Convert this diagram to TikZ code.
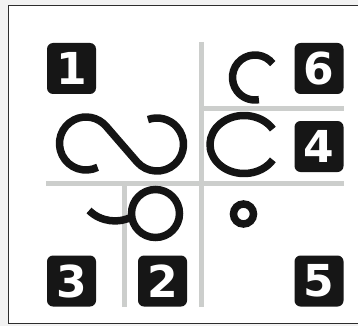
\documentclass[tikz,border=0pt]{standalone}
\usepackage{fontspec}
\newfontfamily\digitfont{DejaVu Sans}
\usetikzlibrary{calc}
\definecolor{gridgray}{RGB}{204,206,204}
\definecolor{boxblack}{RGB}{22,22,22}
\definecolor{pagegray}{RGB}{242,242,242}
\definecolor{framegray}{RGB}{45,45,45}
\tikzset{
  gridline/.style={draw=gridgray, line width=5.5pt},
  stroke/.style={draw=black!92, line width=7.5pt},
  numbox/.style={fill=boxblack, rounded corners=6pt, minimum width=49pt,
    minimum height=51pt, inner sep=0pt, text=white,
    font=\digitfont\bfseries\fontsize{44}{44}\selectfont}
}
\begin{document}
\begin{tikzpicture}[x=1pt,y=-1pt]
\useasboundingbox (0,0) rectangle (358,326);
\fill[pagegray] (0,0) rectangle (358,326);
\draw[framegray, fill=white, line width=1pt] (8,6) rectangle (370,323);
% grid lines
\draw[gridline] (46,183.5) -- (344,183.5);
\draw[gridline] (201.5,42) -- (201.5,307);
\draw[gridline] (124.5,183.5) -- (124.5,307);
\draw[gridline] (201.5,108.5) -- (344,108.5);
% number boxes
\node[numbox] (n1) at (71.5,68.5) {1};
\node[numbox] (n6) at (319,68.5) {6};
\node[numbox] (n4) at (319,146.5) {4};
\node[numbox] (n3) at (71.5,281) {3};
\node[numbox] (n2) at (162.5,281) {2};
\node[numbox] (n5) at (319,281) {5};
% S-shaped curve
\coordinate (c1) at (86,143.5);
\coordinate (c2) at (157,144.5);
\draw[stroke] ($(c1)+(64:26.5)$) arc[start angle=64, end angle=318.3, radius=26.5]
  -- ($(c2)+(-221.7:26.5)$) arc[start angle=-221.7, end angle=-470, radius=26.5];
% loop with tail
\coordinate (c3) at (155.5,213.5);
\draw[stroke] (c3) circle[radius=24];
\draw[stroke] (89,210.5) .. controls (101,222) and (119,224) .. (132.5,216.5);
% small C
\coordinate (c4) at (255,77.5);
\draw[stroke] ($(c4)+(-38:22.5)$) arc[start angle=-38, end angle=-280, radius=22.5];
% large C
\coordinate (c5) at (244,144.5);
\draw[stroke] ($(c5)+(-32:34 and 29)$) arc[start angle=-32, end angle=-328, x radius=34, y radius=29];
% small circle
\coordinate (c6) at (243.5,214);
\draw[stroke] (c6) circle[radius=10];
\end{tikzpicture}
\end{document}
